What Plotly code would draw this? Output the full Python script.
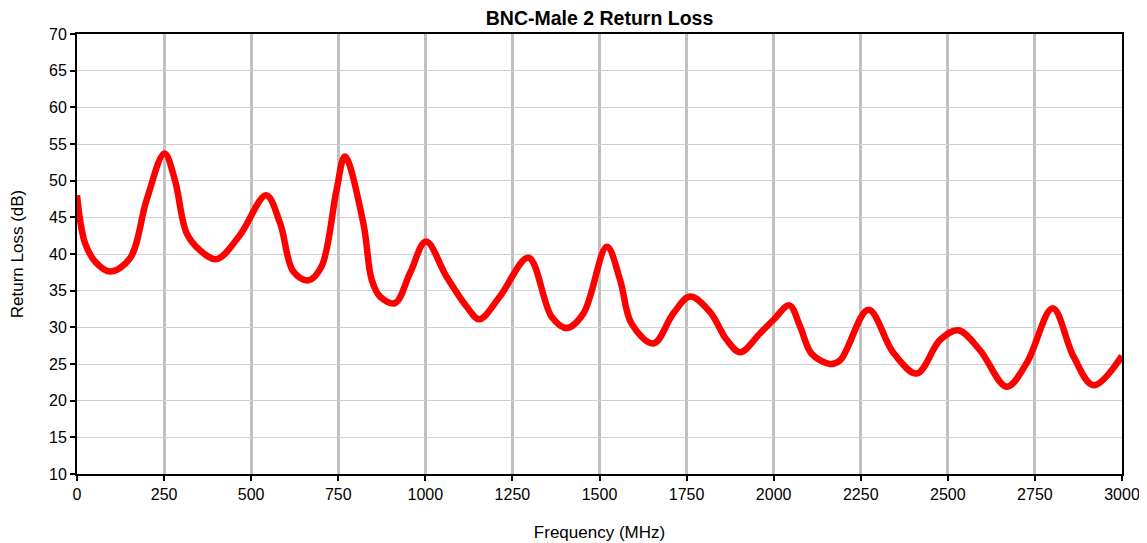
import plotly.graph_objects as go

freq_mhz = [0, 23, 55, 95, 152, 200, 251, 281, 315, 353, 401, 468, 543, 583, 621, 664, 702,
            745, 769, 822, 846, 870, 913, 956, 1002, 1061, 1119, 1155, 1214, 1296,
            1363, 1406, 1454, 1521, 1559, 1592, 1655, 1712, 1760, 1817, 1865, 1904,
            1961, 1999, 2045, 2076, 2109, 2162, 2191, 2272, 2344, 2411, 2478, 2530, 2592,
            2669, 2726, 2801, 2861, 2918, 3000]
return_loss_db = [48.0, 41.5, 38.8, 37.6, 39.4, 47.4, 53.7, 50.1, 42.8, 40.5, 39.3, 42.6, 48.0,
                  44.2, 37.6, 36.4, 38.3, 48.7, 53.3, 44.2, 36.5, 34.2, 33.3, 37.4,
                  41.7, 36.9, 32.8, 31.1, 34.2, 39.5, 31.4, 29.9, 31.9, 41.0, 36.5,
                  30.5, 27.8, 31.9, 34.2, 32.1, 28.3, 26.6, 29.2, 31.0, 33.0, 30.1, 26.4, 25.0,
                  25.5, 32.4, 26.5, 23.7, 28.3, 29.6, 26.9, 21.9, 25.1, 32.6, 26.0,
                  22.1, 26.1]

x_ticks = list(range(0, 3001, 250))
y_ticks = list(range(10, 71, 5))

fig = go.Figure()
fig.add_trace(go.Scatter(
    x=freq_mhz, y=return_loss_db, mode="lines",
    line=dict(color="#ff0000", width=6.5, shape="spline", smoothing=1.0),
    showlegend=False, hoverinfo="x+y",
))

fam = "Liberation Sans, Arial, sans-serif"
font = dict(family=fam, size=16, color="#000000")

# page body has an 8px margin, so the figure is sized/offset accordingly
W, H = 1139, 535
fig.update_layout(
    width=W, height=H,
    margin=dict(l=69, r=25, t=26, b=69, autoexpand=False),
    paper_bgcolor="#ffffff", plot_bgcolor="#ffffff",
    font=font,
    title=dict(text="<b>BNC-Male 2 Return Loss</b>", x=(69 + (W - 25)) / 2 / W, xanchor="center",
               y=1 - 10 / H, yanchor="middle", automargin=False,
               font=dict(size=19.5, family=fam, color="#000")),
    xaxis=dict(
        range=[0, 3000], tickvals=x_ticks, ticktext=[str(v) for v in x_ticks],
        showgrid=True, gridcolor="#c0c0c0", gridwidth=2.5,
        showline=True, linecolor="#000000", linewidth=2, mirror=True,
        ticks="outside", ticklen=5, tickwidth=2, tickcolor="#000",
        zeroline=False, automargin=False,
        title=dict(text="Frequency (MHz)", standoff=24, font=dict(size=17)),
        tickfont=dict(size=16),
    ),
    yaxis=dict(
        range=[10, 70], tickvals=y_ticks, ticktext=[str(v) for v in y_ticks],
        showgrid=True, gridcolor="#d0d0d0", gridwidth=1,
        showline=True, linecolor="#000000", linewidth=2, mirror=True,
        ticks="outside", ticklen=5, tickwidth=2, tickcolor="#000",
        zeroline=False, automargin=False,
        title=dict(text="Return Loss (dB)", standoff=25, font=dict(size=17)),
        tickfont=dict(size=16),
    ),
)

fig.write_html("out.html")
